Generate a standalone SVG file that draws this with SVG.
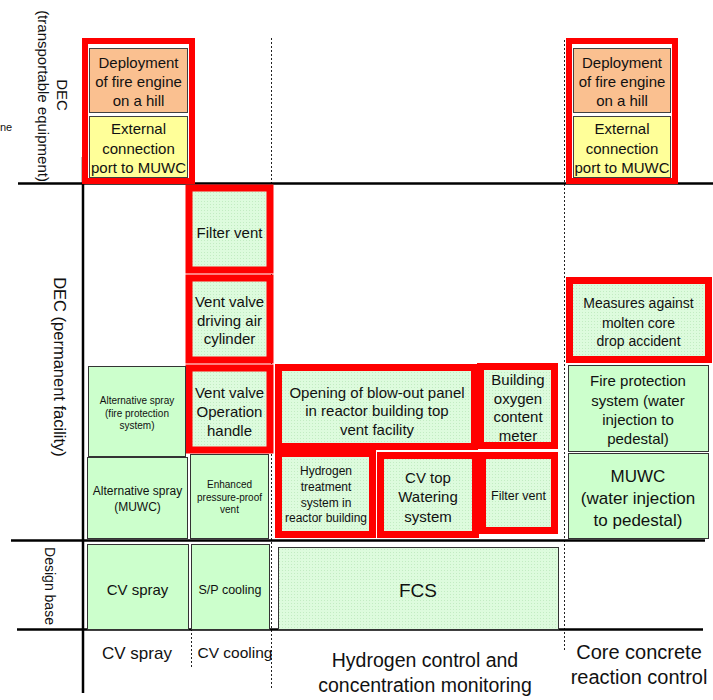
<svg xmlns="http://www.w3.org/2000/svg" width="713" height="700" viewBox="0 0 713 700">
<defs>
<pattern id="tex" width="3" height="3" patternUnits="userSpaceOnUse">
<rect width="3" height="3" fill="#DDFBDD"/>
<rect width="1" height="1" fill="#C2ECC2"/>
</pattern>
<style>
text{font-family:"Liberation Sans",Arial,sans-serif;fill:#111;text-anchor:middle}
.red{fill:url(#tex);stroke:#FF0000;stroke-width:7}
.redw{fill:#fff;stroke:#FF0000;stroke-width:6}
.plain{fill:#CCFFCC;stroke:#333;stroke-width:1}
.texb{fill:url(#tex);stroke:#333;stroke-width:1}
.orange{fill:#FAC090;stroke:#404040;stroke-width:1}
.yellow{fill:#FFFF99;stroke:#404040;stroke-width:1}
.axis{stroke:#000;stroke-width:2.5;fill:none}
.dash{stroke:#222;stroke-width:1;stroke-dasharray:2,2;fill:none}
.f15{font-size:15px}
.f14{font-size:14px}
.f12{font-size:12px}
.f10{font-size:10px}
</style>
</defs>
<g id="connectors">
<line class="dash" x1="271.5" y1="38" x2="271.5" y2="690"/>
<line class="dash" x1="564.5" y1="40" x2="564.5" y2="652"/>
<line class="dash" x1="191.5" y1="629" x2="191.5" y2="667"/>
<line class="axis" x1="18" y1="183.5" x2="713" y2="183.5"/>
<line class="axis" x1="11" y1="540.5" x2="705" y2="540.5"/>
<line class="axis" x1="17" y1="629.5" x2="703" y2="629.5"/>
<line class="axis" x1="83" y1="157" x2="83" y2="693"/>
</g>
<g id="row-labels">
<text class="f15" transform="translate(62,95) rotate(90)" y="5">DEC</text>
<text class="f15" transform="translate(43,96) rotate(90)" y="5">(transportable equipment)</text>
<text style="font-size:16.5px" transform="translate(60,367) rotate(90)" y="6">DEC (permanent facility)</text>
<text class="f14" transform="translate(50,586) rotate(90)" y="5">Design base</text>
<text style="font-size:11px;text-anchor:start" x="0" y="131">ne</text>
</g>
<g id="dec-left">
<rect class="redw" x="85" y="41" width="107" height="140"/>
<rect class="orange" x="89.5" y="48.5" width="98" height="64"/>
<text class="f15" x="138.5" y="68">Deployment</text>
<text class="f15" x="138.5" y="87">of fire engine</text>
<text class="f15" x="138.5" y="106">on a hill</text>
<rect class="yellow" x="89.5" y="116.5" width="98" height="61"/>
<text class="f15" x="138.5" y="134">External</text>
<text class="f15" x="138.5" y="154">connection</text>
<text class="f15" x="138.5" y="173">port to MUWC</text>
</g>
<g id="dec-right">
<rect class="redw" x="569" y="41" width="106" height="140"/>
<rect class="orange" x="573.5" y="48.5" width="97" height="64"/>
<text class="f15" x="622" y="68">Deployment</text>
<text class="f15" x="622" y="87">of fire engine</text>
<text class="f15" x="622" y="106">on a hill</text>
<rect class="yellow" x="573.5" y="116.5" width="97" height="61"/>
<text class="f15" x="622" y="134">External</text>
<text class="f15" x="622" y="154">connection</text>
<text class="f15" x="622" y="173">port to MUWC</text>
</g>
<g id="filter-vent-1">
<rect class="red" x="189" y="188" width="81" height="82"/>
<text class="f15" x="229.5" y="238">Filter vent</text>
</g>
<g id="vent-valve-air">
<rect class="red" x="189" y="278" width="81" height="82"/>
<text class="f15" x="229.5" y="307">Vent valve</text>
<text class="f15" x="229.5" y="326">driving air</text>
<text class="f15" x="229.5" y="344">cylinder</text>
</g>
<g id="vent-valve-handle">
<rect class="red" x="189" y="368" width="81" height="82"/>
<text class="f15" x="229.5" y="398">Vent valve</text>
<text class="f15" x="229.5" y="417">Operation</text>
<text class="f15" x="229.5" y="436">handle</text>
</g>
<g id="alt-spray-fire">
<rect class="plain" x="88.5" y="366.5" width="97" height="90"/>
<text class="f10" x="137" y="404">Alternative spray</text>
<text class="f10" x="137" y="417">(fire protection</text>
<text class="f10" x="137" y="429">system)</text>
</g>
<g id="alt-spray-muwc">
<rect class="plain" x="87.5" y="457.5" width="100" height="81"/>
<text class="f12" x="137.5" y="495">Alternative spray</text>
<text class="f12" x="137.5" y="511">(MUWC)</text>
</g>
<g id="enhanced-vent">
<rect class="plain" x="190.5" y="454.5" width="78" height="84"/>
<text class="f10" x="229.5" y="488">Enhanced</text>
<text class="f10" x="229.5" y="501">pressure-proof</text>
<text class="f10" x="229.5" y="513">vent</text>
</g>
<g id="blow-out-panel">
<rect class="red" x="278.5" y="367.5" width="196" height="79"/>
<text class="f15" x="377" y="398">Opening of blow-out panel</text>
<text class="f15" x="377" y="416">in reactor building top</text>
<text class="f15" x="377" y="435">vent facility</text>
</g>
<g id="oxygen-meter">
<rect class="red" x="480.5" y="366.5" width="74" height="79"/>
<text class="f15" x="518" y="385">Building</text>
<text class="f15" x="518" y="404">oxygen</text>
<text class="f15" x="518" y="422">content</text>
<text class="f15" x="518" y="441">meter</text>
</g>
<g id="hydrogen-treatment">
<rect class="red" x="278.5" y="453.5" width="94" height="81"/>
<text class="f12" x="326" y="475">Hydrogen</text>
<text class="f12" x="326" y="491">treatment</text>
<text class="f12" x="326" y="507">system in</text>
<text class="f12" x="326" y="522">reactor building</text>
</g>
<g id="cv-top-watering">
<rect class="red" x="380.5" y="455.5" width="95" height="79"/>
<text class="f15" x="428" y="483">CV top</text>
<text class="f15" x="428" y="502">Watering</text>
<text class="f15" x="428" y="522">system</text>
</g>
<g id="filter-vent-2">
<rect class="red" x="482.5" y="455.5" width="72" height="75"/>
<text style="font-size:12.5px" x="518.5" y="500">Filter vent</text>
</g>
<g id="molten-core">
<rect class="red" x="569.5" y="280.5" width="139" height="79"/>
<text class="f14" x="638.5" y="308">Measures against</text>
<text class="f14" x="638.5" y="328">molten core</text>
<text class="f14" x="638.5" y="346">drop accident</text>
</g>
<g id="fire-protection">
<rect class="plain" x="568.5" y="365.5" width="140" height="86"/>
<text class="f15" x="638" y="386">Fire protection</text>
<text class="f15" x="638" y="406">system (water</text>
<text class="f15" x="638" y="425">injection to</text>
<text class="f15" x="638" y="444">pedestal)</text>
</g>
<g id="muwc">
<rect class="plain" x="568.5" y="453.5" width="140" height="85"/>
<text style="font-size:17px" x="638" y="482">MUWC</text>
<text style="font-size:17px" x="638" y="504">(water injection</text>
<text style="font-size:17px" x="638" y="526">to pedestal)</text>
</g>
<g id="cv-spray-db">
<rect class="plain" x="87.5" y="544.5" width="101" height="85"/>
<text class="f15" x="137.5" y="595">CV spray</text>
</g>
<g id="sp-cooling">
<rect class="plain" x="191.5" y="544.5" width="78" height="85"/>
<text style="font-size:12.5px" x="230" y="594">S/P cooling</text>
</g>
<g id="fcs">
<rect class="texb" x="278.5" y="547.5" width="280" height="82"/>
<text style="font-size:19px" x="418" y="597">FCS</text>
</g>
<g id="column-labels">
<text style="font-size:17px" x="137" y="659">CV spray</text>
<text style="font-size:15.5px" x="235" y="658">CV cooling</text>
<text style="font-size:19.5px" x="425" y="667">Hydrogen control and</text>
<text style="font-size:19.5px" x="425" y="692">concentration monitoring</text>
<text style="font-size:20px" x="639" y="659">Core concrete</text>
<text style="font-size:20px" x="639" y="684">reaction control</text>
</g>
</svg>
